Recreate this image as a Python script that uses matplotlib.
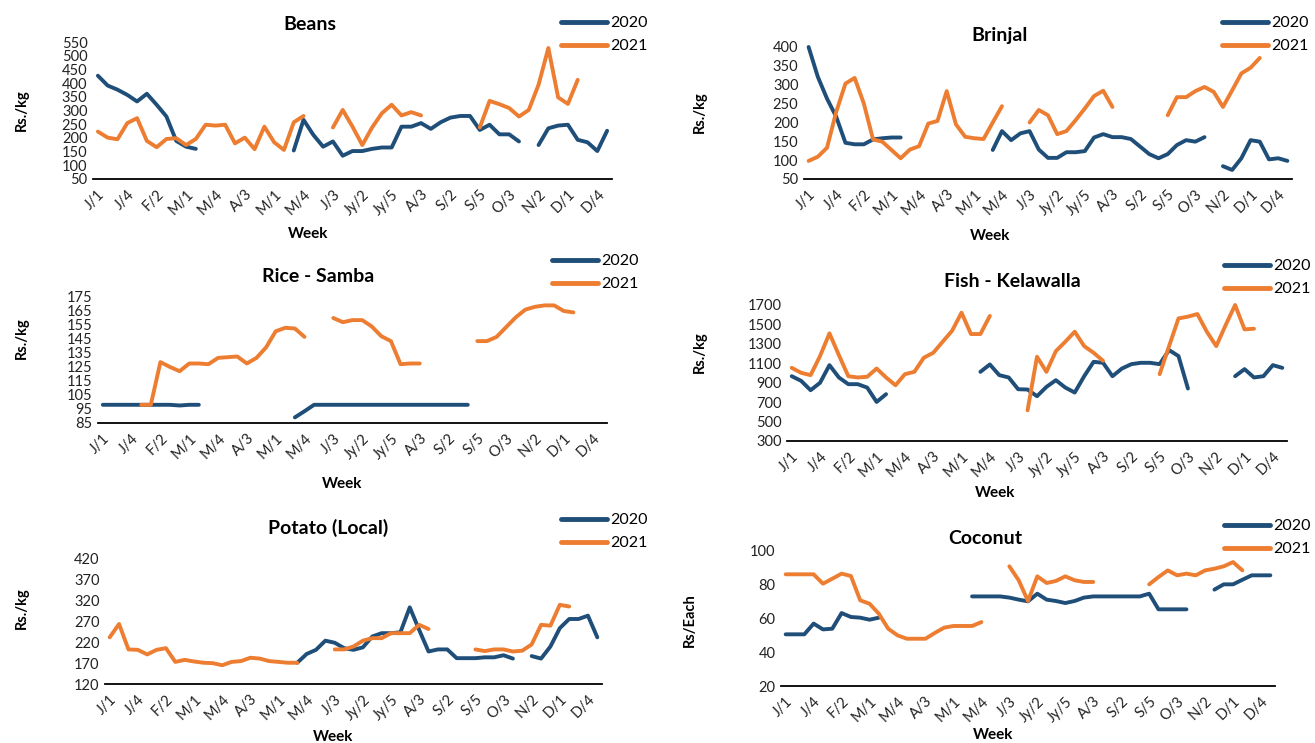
"""
Weekly retail prices 2020 vs 2021 - six commodities.
"""

import numpy as np
import matplotlib.pyplot as plt

plt.rcParams['font.family'] = ['Lato', 'DejaVu Sans']

W, H = 1315, 743
BLUE = '#1F4E79'
ORANGE = '#ED7D31'

# === DATA ===
N_WEEKS = 53
WEEK_LABELS = ["J/1", "J/4", "F/2", "M/1", "M/4", "A/3", "M/1", "M/4", "J/3",
               "Jy/2", "Jy/5", "A/3", "S/2", "S/5", "O/3", "N/2", "D/1", "D/4"]
N = None

beans_2020 = [427, 391, 376, 357, 333, 361, 321, 278, 189, 168, 160,
              N, N, N, N, N, N, N, N, N,
              154, 266, 211, 168, 187, 135, 152, 152, 160, 165, 165, 241, 241, 254,
              233, 257, 274, 280, 280, 229, 248, 213, 213, 187,
              N, 174, 235, 245, 248, 193, 184, 152, 226]
beans_2021 = [223, 201, 195, 254, 272, 189, 166, 196, 199, 174, 196, 248, 245, 248,
              180, 201, 159, 241, 184, 156, 257, 280,
              N, N, 238, 302, 241, 174, 238, 290, 321, 282, 294, 282,
              N, N, N, N, N, 238, 335, 323, 309, 278, 302, 394, 528, 348, 324, 412,
              N, N, N]

brinjal_2020 = [400, 321, 263, 215, 146, 142, 142, 155, 158, 160, 160,
                N, N, N, N, N, N, N, N, N,
                127, 177, 153, 171, 177, 128, 106, 106, 121, 121, 124, 160, 169, 161,
                161, 156, 136, 116, 105, 116, 140, 153, 149, 161,
                N, 84, 74, 105, 153, 149, 102, 105, 98]
brinjal_2021 = [98, 109, 133, 228, 303, 318, 250, 155, 149, 127, 105, 128, 137, 197,
                204, 283, 195, 162, 158, 156, 200, 243,
                N, N, 200, 233, 219, 169, 177, 206, 237, 270, 284, 241,
                N, N, N, N, N, 219, 267, 267, 283, 294, 281, 241, 285, 330, 345, 371,
                N, N, N]

rice_2020 = [98, 98, 98, 98, 98, 98, 98, 98, 97.5, 98, 98,
             N, N, N, N, N, N, N, N, N,
             89, 93.4, 98, 98, 98, 98, 98, 98, 98, 98, 98, 98, 98, 98, 98, 98, 98, 98, 98,
             N, N, N, N, N, N, N, N, N, N, N, N, N, N]
rice_2021 = [N, N, N, N, 98, 98, 128.5, 125, 122, 127.5, 127.5, 127, 131.5, 132,
             132.5, 127.5, 131.5, 139, 150.5, 153, 152.5, 146.5,
             N, N, 160, 157, 158.5, 158.5, 154, 147, 143.5, 127, 127.5, 127.5,
             N, N, N, N, N, 143.5, 143.5, 146.5, 153.5, 160.5, 166, 168, 169, 169,
             165, 164, N, N, N]

fish_2020 = [967, 919, 823, 899, 1081, 954, 885, 885, 850, 702, 782,
             N, N, N, N, N, N, N, N, N,
             1012, 1088, 978, 954, 833, 830, 761, 857, 926, 850, 799, 967, 1115, 1105,
             967, 1046, 1091, 1105, 1105, 1091, 1236, 1174, 840,
             N, N, N, N, 967, 1040, 954, 967, 1081, 1053]
fish_2021 = [1053, 1002, 978, 1174, 1408, 1184, 967, 954, 961, 1046, 954, 874, 988,
             1012, 1157, 1208, 1322, 1435, 1621, 1401, 1401, 1587,
             N, N, N, 616, 1167, 1012, 1225, 1322, 1425, 1277, 1208, 1126,
             N, N, N, N, N, 988, 1277, 1562, 1580, 1607, 1425, 1277, 1494, 1700,
             1449, 1456, N, N, N]

potato_2020 = [N, N, N, N, N, N, N, N, N, N, N, N, N, N, N, N, N, N, N, N,
               171, 192, 202, 224, 219, 206, 202, 208, 234, 242, 242, 244, 304, 250,
               198, 203, 203, 182, 182, 182, 184, 184, 189, 181,
               N, 187, 181, 210, 254, 276, 276, 284, 232]
potato_2021 = [232, 264, 203, 202, 191, 202, 206, 173, 178, 174, 171, 170, 165, 173,
               175, 183, 181, 175, 173, 171, 171,
               N, N, N, 203, 203, 210, 224, 230, 230, 242, 242, 242, 262, 252,
               N, N, N, N, 203, 199, 203, 203, 198, 200, 215, 262, 260, 310, 306,
               N, N, N]

coconut_2020 = [50.4, 50.4, 50.4, 56.7, 53.3, 53.7, 62.9, 60.6, 60.2, 59, 60.2,
                N, N, N, N, N, N, N, N, N,
                72.7, 72.7, 72.7, 72.7, 72, 70.8, 69.8, 74.3, 70.8, 70, 68.8, 70, 72,
                72.7, 72.7, 72.7, 72.7, 72.7, 72.7, 74.3, 65.1, 65.1, 65.1, 65.1,
                N, N, 76.7, 79.8, 79.8, 82.5, 85.1, 85.1, 85.1]
coconut_2021 = [85.7, 85.7, 85.7, 85.7, 80.2, 83.1, 86.1, 84.7, 70.4, 68.4, 62.5,
                53.7, 49.8, 47.8, 47.8, 47.8, 51.2, 54.3, 55.3, 55.3, 55.3, 57.6,
                N, N, 90.4, 82.2, 70, 84.5, 80.6, 81.8, 84.5, 82.2, 81.2, 81.2,
                N, N, N, N, N, 79.8, 84.1, 88, 85.1, 86.1, 85.1, 88, 89, 90.4, 92.9, 88,
                N, N, N]

# layout in pixels: axes box (left, top, right, bottom), title, ylabel, xlabel, legend
PANELS = [
    dict(name="Beans", y20=beans_2020, y21=beans_2021, ylim=(50, 550), step=50,
         unit="Rs./kg", box=(93, 42, 612, 179), title=(310, 25), ylab=(22, 110),
         xlab=(308, 234), leg=(561, 16)),
    dict(name="Brinjal", y20=brinjal_2020, y21=brinjal_2021, ylim=(50, 400), step=50,
         unit="Rs./kg", box=(804, 47, 1292, 179), title=(1000, 36), ylab=(700, 112),
         xlab=(990, 236), leg=(1222, 16)),
    dict(name="Rice - Samba", y20=rice_2020, y21=rice_2021, ylim=(85, 175), step=10,
         unit="Rs./kg", box=(98, 297, 607, 423), title=(318, 277), ylab=(22, 338),
         xlab=(342, 484), leg=(552, 254)),
    dict(name="Fish - Kelawalla", y20=fish_2020, y21=fish_2021, ylim=(300, 1700), step=200,
         unit="Rs./kg", box=(787, 305, 1287, 441), title=(1012, 282), ylab=(700, 352),
         xlab=(995, 493), leg=(1224, 259)),
    dict(name="Potato (Local)", y20=potato_2020, y21=potato_2021, ylim=(120, 420), step=50,
         unit="Rs./kg", box=(105, 559, 602, 684), title=(328, 528), ylab=(22, 608),
         xlab=(333, 737), leg=(561, 513)),
    dict(name="Coconut", y20=coconut_2020, y21=coconut_2021, ylim=(20, 100), step=20,
         unit="Rs/Each", box=(781, 550, 1275, 686), title=(985, 538), ylab=(690, 620),
         xlab=(993, 735), leg=(1224, 519)),
]


def fx(px):
    return px / W


def fy(py):
    return 1 - py / H


def draw_panel(fig, p):
    l, t, r, b = p["box"]
    ax = fig.add_axes([fx(l), fy(b), (r - l) / W, (b - t) / H])
    x = np.arange(N_WEEKS)
    for vals, color, label in [(p["y20"], BLUE, "2020"), (p["y21"], ORANGE, "2021")]:
        ax.plot(x, np.array(vals, dtype=float), color=color, lw=2.8, label=label,
                solid_capstyle='round', solid_joinstyle='round', clip_on=False)

    lo, hi = p["ylim"]
    ax.set_xlim(-0.5, N_WEEKS - 0.5)
    ax.set_ylim(lo, hi)
    ax.set_yticks(np.arange(lo, hi + 1, p["step"]))
    ax.set_xticks(np.arange(0, N_WEEKS, 3))
    ax.set_xticklabels(WEEK_LABELS, rotation=45, ha='right', rotation_mode='anchor')
    ax.tick_params(length=0, labelsize=10.5, colors='#222222')
    ax.tick_params(axis='x', pad=6)
    ax.tick_params(axis='y', pad=4)
    for side in ['top', 'right', 'left']:
        ax.spines[side].set_visible(False)
    ax.spines['bottom'].set_color('black')
    ax.spines['bottom'].set_linewidth(1.3)
    ax.patch.set_alpha(0)

    fig.text(fx(p["title"][0]), fy(p["title"][1]), p["name"], ha='center', va='center',
             fontsize=14, fontweight='bold')
    fig.text(fx(p["ylab"][0]), fy(p["ylab"][1]), p["unit"], ha='center', va='center',
             rotation=90, fontsize=10.5, fontweight='bold')
    fig.text(fx(p["xlab"][0]), fy(p["xlab"][1]), "Week", ha='center', va='center',
             fontsize=11, fontweight='bold')

    leg = ax.legend(loc='upper left', bbox_to_anchor=(fx(p["leg"][0]), fy(p["leg"][1])),
                    bbox_transform=fig.transFigure, frameon=False, fontsize=11.5,
                    handlelength=2.9, handletextpad=0.15, labelspacing=0.55,
                    borderpad=0, borderaxespad=0)
    for line in leg.get_lines():
        line.set_linewidth(3.5)
    return ax


fig = plt.figure(figsize=(W / 100, H / 100), dpi=100)
for panel in PANELS:
    draw_panel(fig, panel)

plt.savefig("out.png", dpi=100)
plt.close()
